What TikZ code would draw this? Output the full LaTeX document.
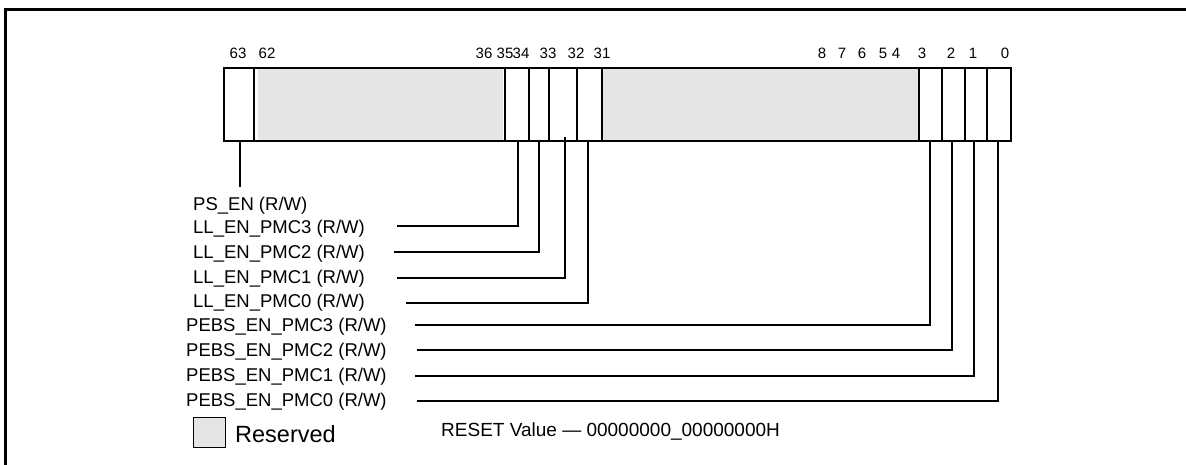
\documentclass[tikz,border=0pt]{standalone}
\usepackage{fontspec}
\setmainfont{Liberation Sans}
\begin{document}
\begin{tikzpicture}[x=1pt,y=-1pt,
  lbl/.style={anchor=west,inner sep=0pt,font=\fontsize{18.5pt}{20pt}\selectfont},
  bitn/.style={inner sep=0pt,font=\fontsize{15pt}{17pt}\selectfont},
  lead/.style={line width=1.3pt},
  divl/.style={line width=1.1pt}]
\useasboundingbox (0,0) rectangle (1186,465);
% outer frame (top and left)
\draw[line width=3pt] (5,465) -- (5,10) -- (1186,10);
% reserved fills
\fill[black!10] (258,68) rectangle (503,140);
\fill[black!10] (603,68) rectangle (919,140);
% register box
\node[draw,line width=2.4pt,minimum width=787pt,minimum height=73pt,inner sep=0pt,anchor=north west] (reg) at (223,67) {};
% dividers
\foreach \x in {254,505,529,549,577,602,919,942,965,987}
  \draw[divl] (\x,67) -- (\x,142);
% bit numbers
\foreach \n/\x in {63/238,62/267,36/484,35/505,34/521,33/548,32/576,31/602,8/822,7/842,6/862,5/883,4/896,3/922,2/951,1/973,0/1005}
  \node[bitn] (n\n) at (\x,53) {\n};
% bit attachment points
\coordinate (b63) at (240,142);
\coordinate (b35) at (518,140);
\coordinate (b34) at (539,140);
\coordinate (b33) at (565,137);
\coordinate (b32) at (588,140);
\coordinate (b3) at (930,140);
\coordinate (b2) at (952,140);
\coordinate (b1) at (974,140);
\coordinate (b0) at (998,140);
\coordinate (pe) at (240,187);
% labels
\node[lbl] (ps)  at (193,206) {PS\_EN (R/W)};
\node[lbl] (ll3) at (193,229) {LL\_EN\_PMC3 (R/W)};
\node[lbl] (ll2) at (193,254) {LL\_EN\_PMC2 (R/W)};
\node[lbl] (ll1) at (193,279) {LL\_EN\_PMC1 (R/W)};
\node[lbl] (ll0) at (193,303) {LL\_EN\_PMC0 (R/W)};
\node[lbl] (pb3) at (186,327) {PEBS\_EN\_PMC3 (R/W)};
\node[lbl] (pb2) at (186,352) {PEBS\_EN\_PMC2 (R/W)};
\node[lbl] (pb1) at (186,377) {PEBS\_EN\_PMC1 (R/W)};
\node[lbl] (pb0) at (186,402) {PEBS\_EN\_PMC0 (R/W)};
% leaders
\draw[lead] (b63) -- (pe);
\draw[lead] (397,226) coordinate (s3) -| (b35);
\draw[lead] (394,252) coordinate (s2) -| (b34);
\draw[lead] (397,278) coordinate (s1) -| (b33);
\draw[lead] (406,303) coordinate (s0) -| (b32);
\draw[lead] (415,325) coordinate (p3) -| (b3);
\draw[lead] (417,350) coordinate (p2) -| (b2);
\draw[lead] (415,376) coordinate (p1) -| (b1);
\draw[lead] (417,401) coordinate (p0) -| (b0);
% legend
\node[draw,fill=black!10,line width=0.8pt,minimum width=32pt,minimum height=30pt,inner sep=0pt,anchor=north west] (leg) at (193,417) {};
\node[anchor=west,inner sep=0pt,font=\fontsize{23.5pt}{25pt}\selectfont] (legt) at (235,434) {Reserved};
\node[lbl,font=\fontsize{19pt}{21pt}\selectfont] (reset) at (441,432) {RESET Value — 00000000\_00000000H};
\end{tikzpicture}
\end{document}
